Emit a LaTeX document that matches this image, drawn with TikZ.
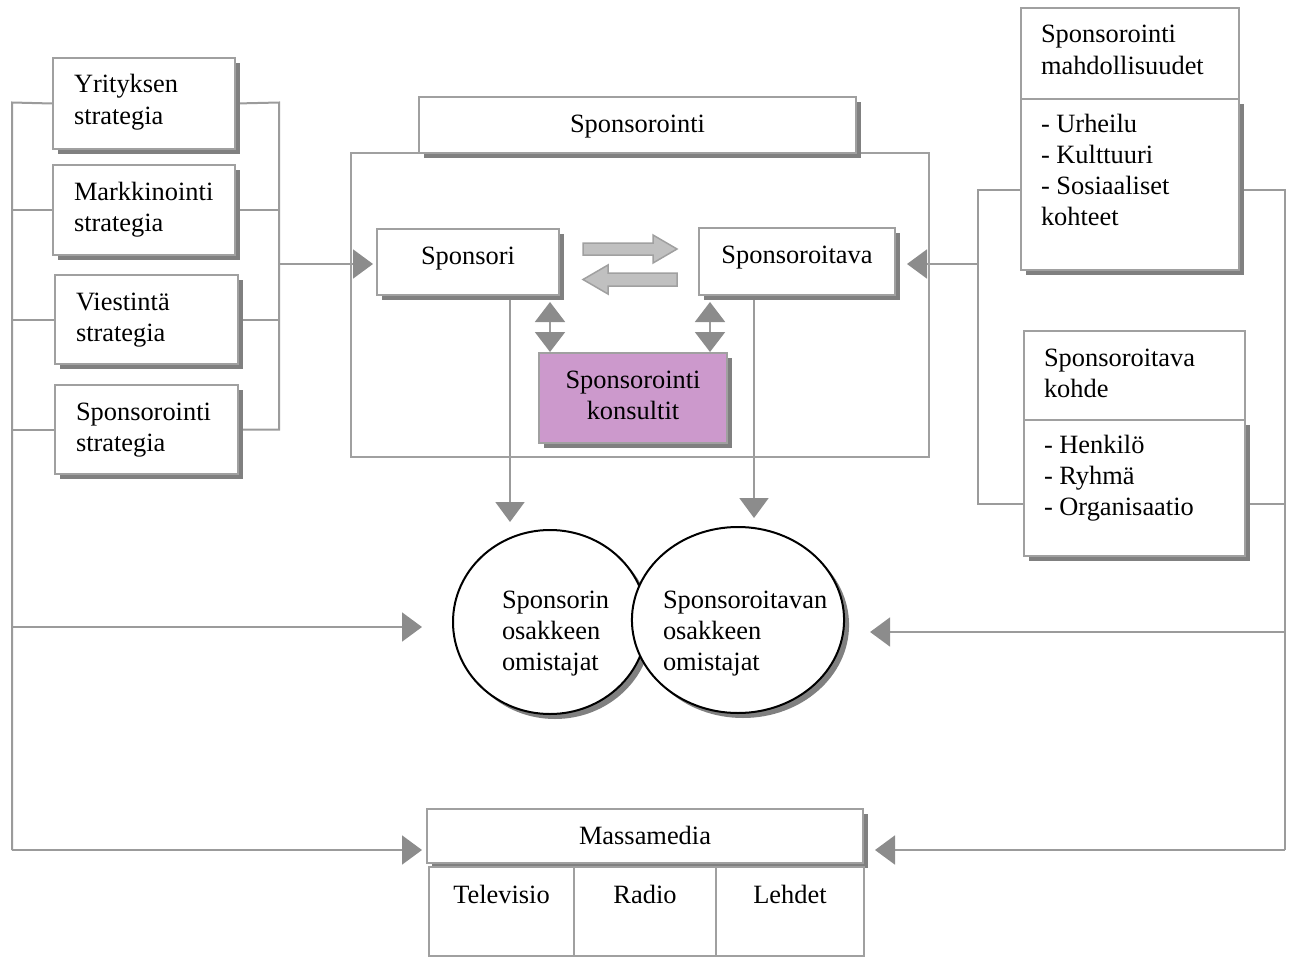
\documentclass[tikz,border=0pt]{standalone}
\usepackage{fontspec}
\setmainfont{Liberation Serif}
\usetikzlibrary{arrows.meta,shadows,shapes.geometric}
\pgfdeclarelayer{background}
\pgfsetlayers{background,main}

\definecolor{linec}{RGB}{155,155,155}
\definecolor{arrowc}{RGB}{140,140,140}
\definecolor{shadowc}{RGB}{128,128,128}
\definecolor{borderc}{RGB}{160,160,160}
\definecolor{blockc}{RGB}{192,192,192}
\definecolor{consultc}{RGB}{204,153,204}

% box contents: alignment, height of first line, width, height, text
\newcommand\cardtext[5]{\parbox[c][#4][t]{#3}{#1\rule{0pt}{#2}#5}}

\tikzset{
  txt/.style={font=\fontsize{26.4}{31}\selectfont, text=black},
  shadowed/.style={drop shadow={shadow xshift=5pt,shadow yshift=-5pt,fill=shadowc,opacity=1}},
  card/.style={txt, rectangle, draw=borderc, line width=2pt, fill=white,
    anchor=north west, inner ysep=0pt},
  leftcard/.style={card, inner xsep=21pt},
  midcard/.style={card, inner xsep=0pt},
  conn/.style={draw=linec, line width=2pt},
  arr/.style={conn, -{Triangle[length=20pt,width=29pt,color=arrowc]}},
  dblarr/.style={conn, {Triangle[length=20pt,width=30pt,color=arrowc]}-{Triangle[length=20pt,width=30pt,color=arrowc]}},
  blockarrow/.style={draw=borderc, line width=1.5pt, fill=blockc, line join=miter},
  owner/.style={txt, ellipse, draw=black, line width=2pt, fill=white, inner sep=0pt, shadowed},
}

\begin{document}
\begin{tikzpicture}[x=1pt,y=-1pt]
\useasboundingbox (0,0) rectangle (1293,958);

% strategy boxes on the left
\node[leftcard, shadowed, minimum width=182pt, minimum height=91pt] (s1) at (52,57)
  {\cardtext{\raggedright}{35pt}{140pt}{91pt}{Yrityksen\\strategia}};
\node[leftcard, shadowed, minimum width=182pt, minimum height=90pt] (s2) at (52,164)
  {\cardtext{\raggedright}{35pt}{140pt}{90pt}{Markkinointi\\strategia}};
\node[leftcard, shadowed, minimum width=183pt, minimum height=89pt] (s3) at (54,274)
  {\cardtext{\raggedright}{35pt}{141pt}{89pt}{Viestintä\\strategia}};
\node[leftcard, shadowed, minimum width=183pt, minimum height=89pt] (s4) at (54,384)
  {\cardtext{\raggedright}{35pt}{141pt}{89pt}{Sponsorointi\\strategia}};

% sponsoring frame
\node[draw=borderc, line width=2pt, anchor=north west, inner sep=0pt,
  minimum width=578pt, minimum height=304pt] (frame) at (350,152) {};
\node[midcard, shadowed, minimum width=437pt, minimum height=56pt] (head) at (418,96)
  {\cardtext{\centering}{35pt}{437pt}{56pt}{Sponsorointi}};
\node[midcard, shadowed, minimum width=182pt, minimum height=66pt] (sponsor) at (376,228)
  {\cardtext{\centering}{35pt}{182pt}{66pt}{Sponsori}};
\node[midcard, shadowed, minimum width=196pt, minimum height=67pt] (sponsee) at (698,227)
  {\cardtext{\centering}{35pt}{196pt}{67pt}{Sponsoroitava}};
\node[midcard, shadowed, fill=consultc, minimum width=188pt, minimum height=90pt] (consult) at (538,352)
  {\cardtext{\centering}{35pt}{188pt}{90pt}{Sponsorointi\\konsultit}};

% exchange between sponsor and sponsored party
\draw[blockarrow] (583,243) -- (653,243) -- (653,235) -- (677,249) -- (653,263)
  -- (653,255) -- (583,255) -- cycle;
\draw[blockarrow] (677,273) -- (608,273) -- (608,265) -- (583,279.5) -- (608,294)
  -- (608,286) -- (677,286) -- cycle;

% boxes on the right
\node[leftcard, minimum width=218pt, minimum height=91pt, inner xsep=20pt] (opphead) at (1020,7)
  {\cardtext{\raggedright}{35pt}{178pt}{91pt}{Sponsorointi\\mahdollisuudet}};
\node[leftcard, shadowed, minimum width=218pt, minimum height=171pt, inner xsep=20pt] (opplist) at (1020,98)
  {\cardtext{\raggedright}{33pt}{178pt}{171pt}{- Urheilu\\- Kulttuuri\\- Sosiaaliset\\kohteet}};
\node[leftcard, minimum width=221pt, minimum height=89pt, inner xsep=20pt] (tgthead) at (1023,330)
  {\cardtext{\raggedright}{35pt}{181pt}{89pt}{Sponsoroitava\\kohde}};
\node[leftcard, shadowed, minimum width=221pt, minimum height=136pt, inner xsep=20pt] (tgtlist) at (1023,419)
  {\cardtext{\raggedright}{33pt}{181pt}{136pt}{- Henkilö\\- Ryhmä\\- Organisaatio}};

% shareholders
\node[owner, minimum width=194pt, minimum height=184pt] (own1) at (550,622)
  {\parbox[c][100pt][t]{96pt}{\raggedright\rule{0pt}{36pt}Sponsorin\\osakkeen\\omistajat}};
\node[owner, minimum width=212pt, minimum height=186pt] (own2) at (738,620)
  {\parbox[c][100pt][t]{150pt}{\raggedright\rule{0pt}{38pt}Sponsoroitavan\\osakkeen\\omistajat}};

% mass media
\node[midcard, shadowed, minimum width=436pt, minimum height=54pt] (media) at (426,808)
  {\cardtext{\centering}{35pt}{436pt}{54pt}{Massamedia}};
\node[midcard, minimum width=145pt, minimum height=89pt] (tv) at (428,866)
  {\cardtext{\centering}{36pt}{145pt}{89pt}{Televisio}};
\node[midcard, minimum width=142pt, minimum height=89pt] (radio) at (573,866)
  {\cardtext{\centering}{36pt}{142pt}{89pt}{Radio}};
\node[midcard, minimum width=148pt, minimum height=89pt] (press) at (715,866)
  {\cardtext{\centering}{36pt}{148pt}{89pt}{Lehdet}};

% bus points of the connectors
\coordinate (lb1) at (12,102.5);
\coordinate (lb2) at (12,627);
\coordinate (lb3) at (12,850);
\coordinate (lr1) at (279,102.5);
\coordinate (lr2) at (279,264);
\coordinate (rl1) at (978,190);
\coordinate (rl2) at (978,264);
\coordinate (rl3) at (978,504);
\coordinate (rb1) at (1285,190);
\coordinate (rb2) at (1285,632);
\coordinate (rb3) at (1285,850);
\coordinate (rb4) at (1285,504);
\coordinate (d1) at (510,299);
\coordinate (d2) at (754,299);
\coordinate (c1) at (550,299);
\coordinate (c2) at (710,299);

\begin{pgfonlayer}{background}
  % left trunk
  \draw[conn] (s1.west) -- (lb1) -- (lb3);
  \draw[conn] (s2.west) -- (s2.west -| lb1);
  \draw[conn] (s3.west) -- (s3.west -| lb1);
  \draw[conn] (s4.west) -- (s4.west -| lb1);
  \draw[arr, shorten >=30pt] (lb2) -- (lb2 -| own1.west);
  \draw[arr, shorten >=4pt] (lb3) -- (lb3 -| media.west);
  % strategies into the sponsor
  \draw[conn] (s1.east) -- (lr1) -- (lr1 |- s4.east) -- (s4.east);
  \draw[conn] (s2.east) -- (s2.east -| lr1);
  \draw[conn] (s3.east) -- (s3.east -| lr1);
  \draw[arr, shorten >=3pt] (lr2) -- (lr2 -| sponsor.west);
  % right side
  \draw[conn] (rl1 -| opplist.west) -- (rl1) -- (rl3) -- (rl3 -| tgtlist.west);
  \draw[arr, shorten >=11pt] (rl2) -- (rl2 -| sponsee.east);
  \draw[conn] (rb1 -| opplist.east) -- (rb1) -- (rb3);
  \draw[conn] (rb4 -| tgtlist.east) -- (rb4);
  \draw[arr, shorten >=25pt] (rb2) -- (rb2 -| own2.east);
  \draw[arr, shorten >=11pt] (rb3) -- (rb3 -| media.east);
  % down to the shareholders
  \draw[arr, shorten >=7pt] (d1) -- (d1 |- own1.north);
  \draw[arr, shorten >=8pt] (d2) -- (d2 |- own2.north);
  % consultants
  \draw[dblarr, shorten <=3pt] (c1) -- (c1 |- consult.north);
  \draw[dblarr, shorten <=3pt] (c2) -- (c2 |- consult.north);
\end{pgfonlayer}
\end{tikzpicture}
\end{document}
